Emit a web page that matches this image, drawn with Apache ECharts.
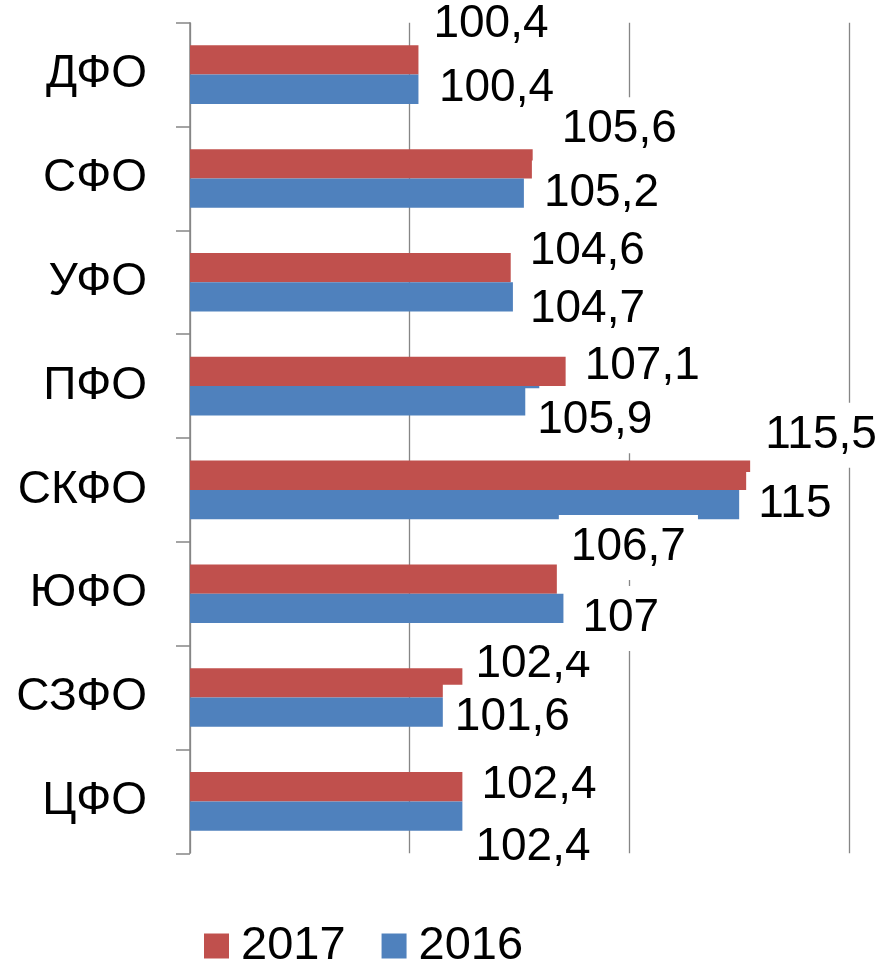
<!DOCTYPE html>
<html>
<head>
<meta charset="utf-8">
<script src="https://cdn.jsdelivr.net/npm/echarts@6/dist/echarts.min.js"></script>
<style>
  html, body { margin: 0; padding: 0; background: #ffffff; }
  #chart { width: 881px; height: 964px; }
</style>
</head>
<body>
<div id="chart"></div>
<script>
// Categories listed bottom-to-top (ECharts category axis order on y)
const categories = ['ЦФО', 'СЗФО', 'ЮФО', 'СКФО', 'ПФО', 'УФО', 'СФО', 'ДФО'];
const seriesNames = ['2017', '2016'];
const values2017 = [102.4, 102.4, 106.7, 115.5, 107.1, 104.6, 105.6, 100.4];
const values2016 = [102.4, 101.6, 107, 115, 105.9, 104.7, 105.2, 100.4];
const xTicks = [90, 100, 110, 120];

// Label nudges (manual label placement as in the original), same order as categories
const labelNudge2017 = [[7, -1], [1, -19], [2, -31.5], [3, -40], [7, -5], [7, -16.5], [17, -34], [3, -36]];
const labelNudge2016 = [[1, 31.5], [-2, 5], [7, 10], [7, 0], [-14, 20], [5, 12], [8, 0], [8.5, -1]];

const FONT = 'Arial, "Liberation Sans", sans-serif';
const RED = '#C0504D';
const BLUE = '#4F81BD';
const GRID_GRAY = '#868686';

function fmt(v) { return String(v).replace('.', ','); }

function buildData(values, nudges) {
  return values.map((v, i) => ({
    value: v,
    label: { offset: nudges[i] }
  }));
}

const labelBase = {
  show: true,
  position: 'right',
  distance: 0,
  color: '#000',
  fontFamily: FONT,
  fontSize: 46,
  lineHeight: 46,
  backgroundColor: '#ffffff',
  padding: [11, 12, 8, 12],
  formatter: p => fmt(p.value)
};

const chart = echarts.init(document.getElementById('chart'), null, { renderer: 'canvas' });
chart.setOption({
  animation: false,
  backgroundColor: '#ffffff',
  grid: { left: 190, right: 32, top: 22.7, bottom: 110.7, containLabel: false },
  legend: {
    data: seriesNames,
    left: 204,
    top: 922.5,
    padding: 0,
    itemWidth: 25,
    itemHeight: 25,
    itemGap: 36,
    icon: 'rect',
    textStyle: { fontFamily: FONT, fontSize: 47, color: '#000', padding: [0, 0, 0, 7], lineHeight: 47 }
  },
  xAxis: {
    type: 'value',
    min: xTicks[0],
    max: xTicks[xTicks.length - 1],
    interval: xTicks[1] - xTicks[0],
    axisLabel: { show: false },
    axisLine: { show: false },
    axisTick: { show: false },
    splitLine: { show: true, lineStyle: { color: GRID_GRAY, width: 1.3 } }
  },
  yAxis: {
    type: 'category',
    data: categories,
    axisLine: { show: true, lineStyle: { color: GRID_GRAY, width: 1.5 } },
    axisTick: { show: true, length: 14, lineStyle: { color: GRID_GRAY, width: 1.5 } },
    axisLabel: { fontFamily: FONT, fontSize: 46, color: '#000', margin: 43 },
    splitLine: { show: false }
  },
  series: [
    {
      name: seriesNames[0],
      type: 'bar',
      data: buildData(values2017, labelNudge2017),
      itemStyle: { color: RED },
      barWidth: 29.3,
      barGap: '0%',
      label: labelBase
    },
    {
      name: seriesNames[1],
      type: 'bar',
      data: buildData(values2016, labelNudge2016),
      itemStyle: { color: BLUE },
      barWidth: 29.3,
      barGap: '0%',
      label: labelBase
    }
  ]
});
</script>
</body>
</html>
